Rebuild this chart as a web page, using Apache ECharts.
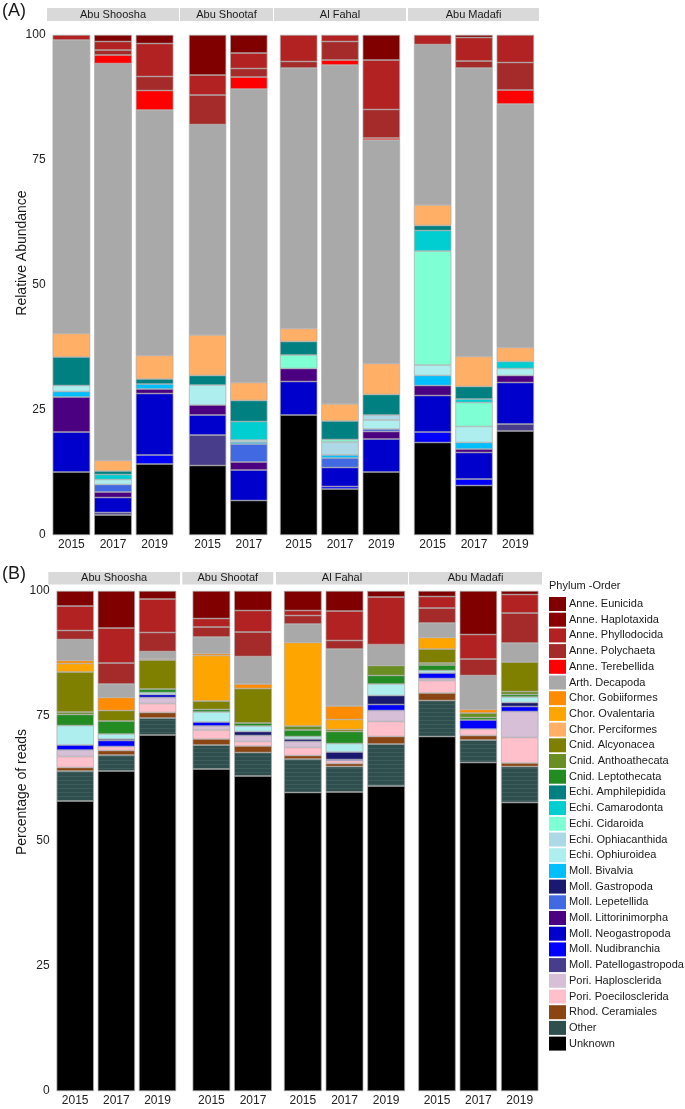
<!DOCTYPE html>
<html>
<head>
<meta charset="utf-8">
<script src="https://cdn.jsdelivr.net/npm/echarts@6/dist/echarts.min.js"></script>
<style>
  html, body { margin: 0; background: #fff; }
  #chart { width: 685px; height: 1109px; }
</style>
</head>
<body>
<div id="chart"></div>
<script>
// legend order (top of the stack first)
const taxa = [
  'Anne. Eunicida', 'Anne. Haplotaxida', 'Anne. Phyllodocida', 'Anne. Polychaeta', 'Anne. Terebellida',
  'Arth. Decapoda', 'Chor. Gobiiformes', 'Chor. Ovalentaria', 'Chor. Perciformes',
  'Cnid. Alcyonacea', 'Cnid. Anthoathecata', 'Cnid. Leptothecata',
  'Echi. Amphilepidida', 'Echi. Camarodonta', 'Echi. Cidaroida', 'Echi. Ophiacanthida', 'Echi. Ophiuroidea',
  'Moll. Bivalvia', 'Moll. Gastropoda', 'Moll. Lepetellida', 'Moll. Littorinimorpha', 'Moll. Neogastropoda',
  'Moll. Nudibranchia', 'Moll. Patellogastropoda', 'Pori. Haplosclerida', 'Pori. Poecilosclerida',
  'Rhod. Ceramiales', 'Other', 'Unknown'
];
const taxonColors = [
  '#800000', '#8B0000', '#B22222', '#A52A2A', '#FF0000',
  '#A9A9A9', '#FF8C00', '#FFA500', '#FFB066',
  '#808000', '#6B8E23', '#228B22',
  '#008080', '#00CED1', '#7FFFD4', '#ADD8E6', '#AFEEEE',
  '#00BFFF', '#191970', '#4169E1', '#4B0082', '#0000CD',
  '#0000FF', '#483D8B', '#D8BFD8', '#FFC0CB',
  '#8B4513', '#2F4F4F', '#000000'
];
const sites = ['Abu Shoosha', 'Abu Shootaf', 'Al Fahal', 'Abu Madafi'];
const siteYears = [['2015', '2017', '2019'], ['2015', '2017'], ['2015', '2017', '2019'], ['2015', '2017', '2019']];
const yTicks = [0, 25, 50, 75, 100];

// (A) relative abundance, bottom to top
const A_shoosha15 = [['Unknown', 12.6], ['Neogastropoda', 8.0], ['Littorinimorpha', 7.0], ['Bivalvia', 1.1], ['Ophiuroidea', 1.2], ['Amphilepidida', 5.7], ['Perciformes', 4.7], ['Decapoda', 58.7], ['Phyllodocida', 1.0]];
const A_shoosha17 = [['Unknown', 4.0], ['Patellogastropoda', 0.5], ['Neogastropoda', 3.0], ['Littorinimorpha', 1.1], ['Lepetellida', 1.5], ['Ophiuroidea', 1.0], ['Camarodonta', 1.0], ['Amphilepidida', 0.7], ['Perciformes', 2.1], ['Decapoda', 79.4], ['Terebellida', 1.7], ['Polychaeta', 1.0], ['Phyllodocida', 1.7], ['Eunicida', 1.3]];
const A_shoosha19 = [['Unknown', 14.2], ['Nudibranchia', 1.8], ['Neogastropoda', 12.3], ['Littorinimorpha', 0.9], ['Bivalvia', 1.0], ['Amphilepidida', 1.0], ['Perciformes', 4.7], ['Decapoda', 49.1], ['Terebellida', 3.9], ['Polychaeta', 2.8], ['Phyllodocida', 6.6], ['Eunicida', 1.7]];
const A_shootaf15 = [['Unknown', 13.9], ['Patellogastropoda', 6.1], ['Neogastropoda', 4.0], ['Littorinimorpha', 2.0], ['Ophiuroidea', 4.0], ['Amphilepidida', 1.9], ['Perciformes', 8.1], ['Decapoda', 42.1], ['Polychaeta', 5.9], ['Phyllodocida', 4.0], ['Eunicida', 8.0]];
const A_shootaf17 = [['Unknown', 6.9], ['Neogastropoda', 6.1], ['Littorinimorpha', 1.6], ['Lepetellida', 3.6], ['Bivalvia', 0.4], ['Ophiuroidea', 0.4], ['Camarodonta', 3.7], ['Amphilepidida', 4.2], ['Perciformes', 3.6], ['Decapoda', 58.7], ['Terebellida', 2.4], ['Polychaeta', 1.7], ['Phyllodocida', 3.1], ['Eunicida', 3.6]];
const A_fahal15 = [['Unknown', 24.0], ['Neogastropoda', 6.7], ['Littorinimorpha', 2.6], ['Cidaroida', 2.7], ['Amphilepidida', 2.7], ['Perciformes', 2.6], ['Decapoda', 52.1], ['Polychaeta', 1.3], ['Phyllodocida', 5.3]];
const A_fahal17 = [['Unknown', 9.2], ['Nudibranchia', 0.5], ['Neogastropoda', 3.8], ['Lepetellida', 1.9], ['Bivalvia', 0.6], ['Ophiacanthida', 2.6], ['Cidaroida', 0.5], ['Amphilepidida', 3.7], ['Perciformes', 3.4], ['Decapoda', 67.8], ['Terebellida', 1.0], ['Polychaeta', 3.7], ['Phyllodocida', 1.3]];
const A_fahal19 = [['Unknown', 12.6], ['Neogastropoda', 6.6], ['Littorinimorpha', 1.5], ['Lepetellida', 0.5], ['Ophiuroidea', 1.8], ['Ophiacanthida', 1.0], ['Amphilepidida', 4.1], ['Perciformes', 6.2], ['Decapoda', 44.7], ['Terebellida', 0.4], ['Polychaeta', 5.7], ['Phyllodocida', 9.9], ['Eunicida', 5.0]];
const A_madafi15 = [['Unknown', 18.5], ['Nudibranchia', 2.1], ['Neogastropoda', 7.3], ['Littorinimorpha', 2.0], ['Bivalvia', 2.0], ['Ophiuroidea', 2.1], ['Cidaroida', 22.8], ['Camarodonta', 4.1], ['Amphilepidida', 1.0], ['Perciformes', 4.1], ['Decapoda', 32.1], ['Phyllodocida', 1.9]];
const A_madafi17 = [['Unknown', 9.9], ['Nudibranchia', 1.3], ['Neogastropoda', 5.3], ['Littorinimorpha', 0.7], ['Bivalvia', 1.3], ['Ophiuroidea', 3.2], ['Cidaroida', 4.8], ['Camarodonta', 0.7], ['Amphilepidida', 2.5], ['Perciformes', 6.0], ['Decapoda', 57.7], ['Polychaeta', 1.4], ['Phyllodocida', 4.7], ['Eunicida', 0.5]];
const A_madafi19 = [['Unknown', 20.8], ['Patellogastropoda', 1.4], ['Neogastropoda', 8.3], ['Littorinimorpha', 1.4], ['Ophiuroidea', 1.4], ['Camarodonta', 1.4], ['Perciformes', 2.8], ['Decapoda', 48.7], ['Terebellida', 2.8], ['Polychaeta', 5.5], ['Phyllodocida', 5.5]];

// (B) percentage of reads, bottom to top
const B_shoosha15 = [['Unknown', 58.0], ['Other', 6.0], ['Ceramiales', 0.7], ['Poecilosclerida', 2.2], ['Haplosclerida', 1.3], ['Nudibranchia', 1.0], ['Ophiuroidea', 3.9], ['Leptothecata', 2.2], ['Anthoathecata', 0.5], ['Alcyonacea', 8.0], ['Ovalentaria', 1.7], ['Gobiiformes', 0.6], ['Decapoda', 4.2], ['Polychaeta', 1.8], ['Phyllodocida', 4.9], ['Eunicida', 3.0]];
const B_shoosha17 = [['Unknown', 64.0], ['Other', 3.2], ['Ceramiales', 0.9], ['Poecilosclerida', 0.8], ['Nudibranchia', 1.2], ['Gastropoda', 0.3], ['Ophiuroidea', 1.0], ['Leptothecata', 2.6], ['Alcyonacea', 2.1], ['Gobiiformes', 2.6], ['Decapoda', 2.7], ['Polychaeta', 4.2], ['Phyllodocida', 7.0], ['Eunicida', 7.4]];
const B_shoosha19 = [['Unknown', 71.2], ['Other', 3.4], ['Ceramiales', 1.1], ['Poecilosclerida', 1.8], ['Haplosclerida', 1.2], ['Neogastropoda', 0.6], ['Ophiuroidea', 0.4], ['Leptothecata', 0.7], ['Alcyonacea', 5.8], ['Gobiiformes', 0.2], ['Decapoda', 1.5], ['Polychaeta', 3.8], ['Phyllodocida', 6.7], ['Eunicida', 1.6]];
const B_shootaf15 = [['Unknown', 64.4], ['Other', 4.8], ['Ceramiales', 1.2], ['Poecilosclerida', 1.8], ['Haplosclerida', 0.8], ['Nudibranchia', 0.8], ['Ophiuroidea', 2.0], ['Leptothecata', 0.5], ['Alcyonacea', 1.7], ['Ovalentaria', 9.1], ['Gobiiformes', 0.4], ['Decapoda', 3.3], ['Polychaeta', 2.0], ['Phyllodocida', 1.7], ['Eunicida', 5.5]];
const B_shootaf17 = [['Unknown', 63.0], ['Other', 4.7], ['Ceramiales', 1.3], ['Poecilosclerida', 0.9], ['Haplosclerida', 1.2], ['Gastropoda', 0.8], ['Ophiuroidea', 1.1], ['Leptothecata', 0.6], ['Alcyonacea', 6.9], ['Gobiiformes', 0.9], ['Decapoda', 5.5], ['Polychaeta', 4.9], ['Phyllodocida', 4.3], ['Eunicida', 3.9]];
const B_fahal15 = [['Unknown', 59.7], ['Other', 6.7], ['Ceramiales', 0.7], ['Poecilosclerida', 1.6], ['Haplosclerida', 1.2], ['Gastropoda', 0.5], ['Ophiuroidea', 0.5], ['Leptothecata', 1.3], ['Anthoathecata', 0.8], ['Ovalentaria', 16.7], ['Decapoda', 3.7], ['Polychaeta', 1.7], ['Phyllodocida', 1.0], ['Eunicida', 3.9]];
const B_fahal17 = [['Unknown', 59.8], ['Other', 5.1], ['Ceramiales', 0.6], ['Poecilosclerida', 0.6], ['Nudibranchia', 0.2], ['Gastropoda', 1.5], ['Ophiuroidea', 1.7], ['Leptothecata', 2.4], ['Alcyonacea', 0.4], ['Ovalentaria', 2.0], ['Gobiiformes', 2.7], ['Decapoda', 11.4], ['Polychaeta', 1.7], ['Phyllodocida', 5.9], ['Eunicida', 4.0]];
const B_fahal19 = [['Unknown', 61.0], ['Other', 8.4], ['Ceramiales', 1.5], ['Poecilosclerida', 3.0], ['Haplosclerida', 2.2], ['Nudibranchia', 1.2], ['Gastropoda', 1.8], ['Ophiuroidea', 2.3], ['Leptothecata', 1.7], ['Anthoathecata', 2.0], ['Decapoda', 4.0], ['Polychaeta', 0.2], ['Phyllodocida', 9.5], ['Eunicida', 1.2]];
const B_madafi15 = [['Unknown', 70.9], ['Other', 7.2], ['Ceramiales', 1.5], ['Poecilosclerida', 2.5], ['Haplosclerida', 0.4], ['Nudibranchia', 1.1], ['Ophiuroidea', 0.5], ['Leptothecata', 1.1], ['Anthoathecata', 0.4], ['Alcyonacea', 2.8], ['Ovalentaria', 2.3], ['Decapoda', 2.9], ['Polychaeta', 3.0], ['Phyllodocida', 2.3], ['Eunicida', 1.1]];
const B_madafi17 = [['Unknown', 65.7], ['Other', 4.5], ['Ceramiales', 0.9], ['Poecilosclerida', 1.3], ['Nudibranchia', 1.8], ['Leptothecata', 0.5], ['Anthoathecata', 0.9], ['Gobiiformes', 0.7], ['Decapoda', 6.8], ['Polychaeta', 3.3], ['Phyllodocida', 4.9], ['Eunicida', 8.7]];
const B_madafi19 = [['Unknown', 57.7], ['Other', 7.2], ['Ceramiales', 0.7], ['Poecilosclerida', 5.1], ['Haplosclerida', 5.2], ['Nudibranchia', 1.0], ['Gastropoda', 0.8], ['Ophiuroidea', 1.1], ['Leptothecata', 0.5], ['Anthoathecata', 0.6], ['Alcyonacea', 5.9], ['Decapoda', 3.8], ['Polychaeta', 6.0], ['Phyllodocida', 3.7], ['Eunicida', 0.7]];

const FONT = '"Liberation Sans", Arial, Helvetica, sans-serif';

// layout of the two panels (pixels)
const panels = [
  {
    tag: '(A)', tagY: 11, yName: 'Relative Abundance', yNameY: 253,
    top: 35, height: 500, stripY: [8, 21],
    gridX: [[50.6, 175.4], [187, 269.4], [278, 402], [412, 536]],
    stripX: [[47, 179], [180, 273], [274, 406], [408, 539]],
    bars: [[A_shoosha15, A_shoosha17, A_shoosha19], [A_shootaf15, A_shootaf17],
           [A_fahal15, A_fahal17, A_fahal19], [A_madafi15, A_madafi17, A_madafi19]]
  },
  {
    tag: '(B)', tagY: 574, yName: 'Percentage of reads', yNameY: 792,
    top: 591, height: 500, stripY: [572, 584.5],
    gridX: [[54.6, 178.1], [190.6, 273.8], [282, 407], [416.3, 540.4]],
    stripX: [[48.3, 180], [182.3, 273.3], [276, 408], [409, 542]],
    bars: [[B_shoosha15, B_shoosha17, B_shoosha19], [B_shootaf15, B_shootaf17],
           [B_fahal15, B_fahal17, B_fahal19], [B_madafi15, B_madafi17, B_madafi19]]
  }
];

const shortName = n => n.includes('. ') ? n.split('. ')[1] : n;
const noDecal = { symbol: 'rect', color: 'rgba(0,0,0,0)' };
// faint horizontal striations seen in the "Other" block
const otherDecal = { symbol: 'rect', symbolSize: 1, dashArrayX: [1, 0], dashArrayY: [1, 3], color: 'rgba(130,150,150,0.18)' };

const grid = [], xAxis = [], yAxis = [], series = [], graphic = [];

panels.forEach((p, pi) => {
  graphic.push({
    type: 'text', x: 2, y: p.tagY, 
    style: { text: p.tag, fontSize: 18, fontFamily: FONT, fill: '#1a1a1a', verticalAlign: 'middle' }
  });
  graphic.push({
    type: 'text', x: 22.5, y: p.yNameY, rotation: Math.PI / 2,
    style: { text: p.yName, fontSize: 14, fontFamily: FONT, fill: '#1a1a1a', align: 'center', verticalAlign: 'middle' }
  });

  p.bars.forEach((facetBars, fi) => {
    const idx = grid.length;
    const [gl, gr] = p.gridX[fi];
    grid.push({ left: gl, width: gr - gl, top: p.top, height: p.height });

    const [sl, sr] = p.stripX[fi];
    graphic.push({
      type: 'rect', shape: { x: sl, y: p.stripY[0], width: sr - sl, height: p.stripY[1] - p.stripY[0] },
      style: { fill: '#d9d9d9' }, silent: true
    });
    graphic.push({
      type: 'text', x: (sl + sr) / 2, y: (p.stripY[0] + p.stripY[1]) / 2,
      style: { text: sites[fi], fontSize: 11, fontFamily: FONT, fill: '#1a1a1a', align: 'center', verticalAlign: 'middle' }
    });

    xAxis.push({
      type: 'category', gridIndex: idx, data: siteYears[fi],
      axisLine: { show: false }, axisTick: { show: false },
      axisLabel: { margin: 4, fontSize: 12, color: '#222', fontFamily: FONT }
    });
    yAxis.push({
      type: 'value', gridIndex: idx, min: 0, max: 100, interval: 25,
      axisLine: { show: false }, axisTick: { show: false }, splitLine: { show: false },
      axisLabel: { show: fi === 0, margin: 5, fontSize: 12, color: '#222', fontFamily: FONT,
        formatter: v => yTicks.includes(v) ? String(v) : '' }
    });

    // stack from the bottom (Unknown) to the top (Eunicida)
    for (let t = taxa.length - 1; t >= 0; t--) {
      const key = shortName(taxa[t]);
      const data = facetBars.map(bar => {
        const hit = bar.find(d => d[0] === key);
        return hit ? hit[1] : '-';
      });
      series.push({
        type: 'bar', name: taxa[t], xAxisIndex: idx, yAxisIndex: idx,
        stack: 'p' + pi + 'f' + fi, barWidth: '90%', data,
        itemStyle: {
          color: taxonColors[t], borderColor: 'rgba(170,170,170,0.8)', borderWidth: 0.5,
          decal: key === 'Other' ? otherDecal : noDecal
        },
        emphasis: { disabled: true }
      });
    }
  });
});

graphic.push({
  type: 'text', x: 549, y: 586,
  style: { text: 'Phylum -Order', fontSize: 11, fontFamily: FONT, fill: '#1a1a1a', verticalAlign: 'middle' }
});

const chart = echarts.init(document.getElementById('chart'), null, { renderer: 'canvas' });
chart.setOption({
  animation: false,
  backgroundColor: '#fff',
  aria: { enabled: true, decal: { show: true } },
  grid, xAxis, yAxis, series, graphic,
  legend: {
    data: taxa, orient: 'vertical', left: 549, top: 597, padding: 0,
    itemWidth: 17, itemHeight: 14, itemGap: 1.7, icon: 'rect', selectedMode: false,
    itemStyle: { borderWidth: 0, decal: noDecal },
    textStyle: { fontSize: 11, color: '#1a1a1a', fontFamily: FONT, lineHeight: 14, padding: [0, 0, 0, -2] }
  }
});
</script>
</body>
</html>
